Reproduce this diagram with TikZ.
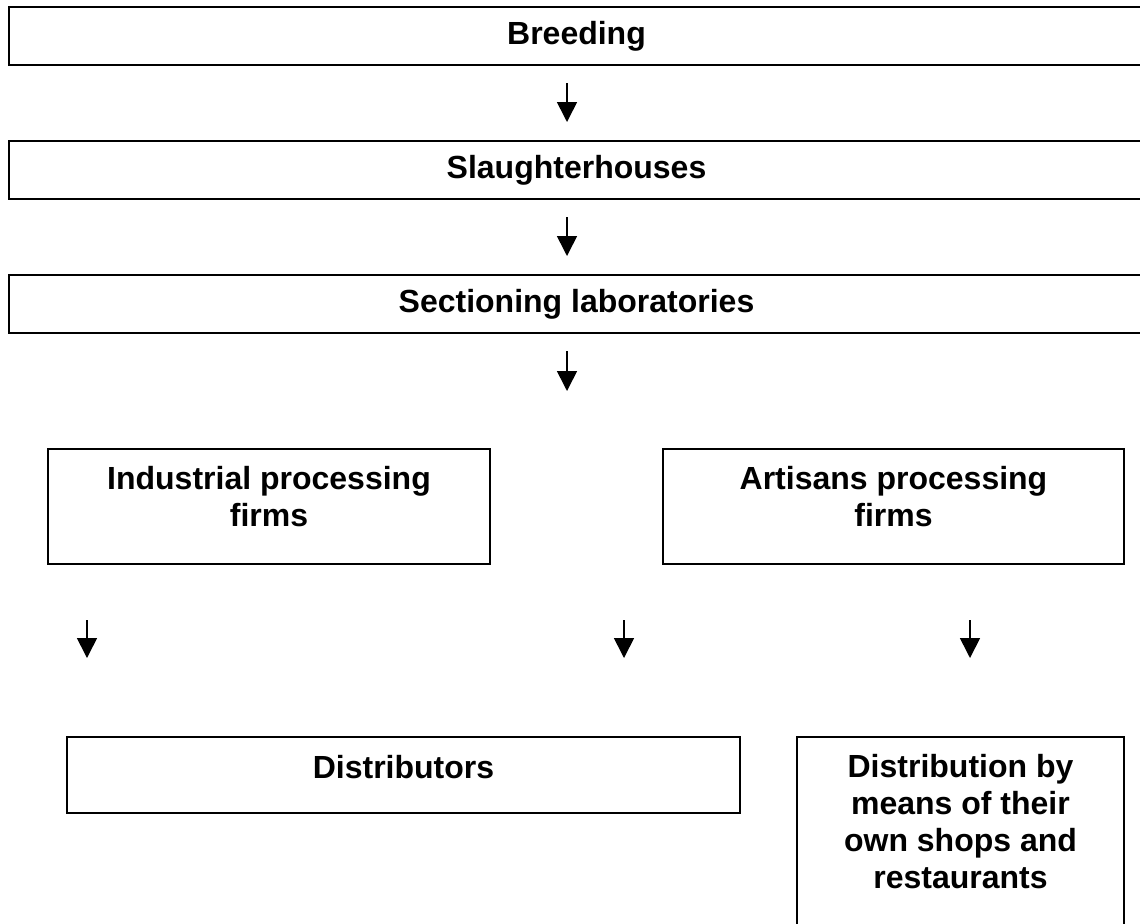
\documentclass[tikz,border=0pt]{standalone}
\usepackage{fontspec}
\setmainfont{Liberation Sans}
\usetikzlibrary{arrows.meta,positioning}

\begin{document}
\begin{tikzpicture}[x=0.5pt,y=-0.5pt,
  box/.style={draw=black,line width=1pt,align=center,font=\fontsize{16}{18.5}\selectfont\bfseries,inner xsep=4pt},
  stage/.style={box,minimum width=567.5pt,minimum height=29pt},
  firm/.style={box,anchor=north,inner ysep=8.5pt,text depth=10.5pt},
  arr/.style={-{Triangle[length=10pt,width=10pt]},line width=0.8pt}]
\useasboundingbox (0,0) rectangle (1140,923);
\clip (0,0) rectangle (1140,923);
% chain of stages
\node[stage] (breed) at (576.5,36) {Breeding};
\node[stage] (slaughter) at (576.5,170) {Slaughterhouses};
\node[stage] (section) at (576.5,304) {Sectioning laboratories};
\coordinate (s1) at (567,83);  \coordinate (t1) at (567,122);
\coordinate (s2) at (567,217); \coordinate (t2) at (567,256);
\coordinate (s3) at (567,351); \coordinate (t3) at (567,391);
\draw[arr] (s1)--(t1); \draw[arr] (s2)--(t2); \draw[arr] (s3)--(t3);
% processing firms
\node[firm,minimum width=221pt] (industrial) at (269,448) {Industrial processing\\firms};
\node[firm,minimum width=230.5pt] (artisans) at (893.5,448) {Artisans processing\\firms};
\coordinate (s4) at (87,620);  \coordinate (t4) at (87,658);
\coordinate (s5) at (624,620); \coordinate (t5) at (624,658);
\coordinate (s6) at (970,620); \coordinate (t6) at (970,658);
\draw[arr] (s4)--(t4); \draw[arr] (s5)--(t5); \draw[arr] (s6)--(t6);
% distribution
\node[firm,minimum width=336.5pt,inner ysep=9pt,text depth=8.5pt] (distrib) at (403.5,736) {Distributors};
\node[firm,minimum width=163.5pt,text depth=40pt] (shops) at (960.5,736) {Distribution by\\means of their\\own shops and\\restaurants};
\end{tikzpicture}
\end{document}
